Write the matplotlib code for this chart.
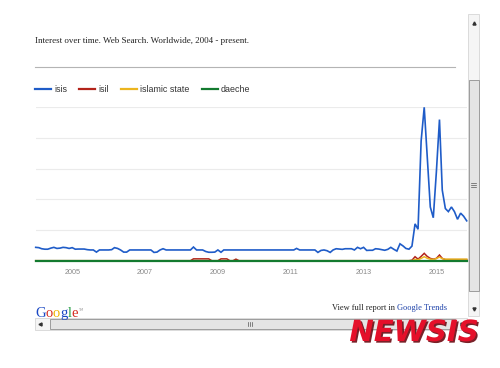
import matplotlib
matplotlib.use('Agg')
import matplotlib.pyplot as plt
import matplotlib.patheffects as pe
from matplotlib.patches import Rectangle
import pandas as pd

# Google Trends, worldwide web search, monthly Jan 2004 - Nov 2015
months = pd.date_range('2004-01-01', '2015-11-01', freq='MS')

isis = [
    8.7, 8.5, 7.8, 7.5, 7.5, 8.2, 8.7, 8.0, 8.2, 8.7, 8.5, 8.0,   # 2004
    8.5, 7.5, 7.6, 7.6, 7.6, 7.2, 7.0, 7.0, 5.6, 7.0, 7.0, 7.0,   # 2005
    7.0, 7.2, 8.5, 8.0, 7.0, 5.6, 5.6, 7.0, 7.0, 7.0, 7.0, 7.0,   # 2006
    7.0, 7.0, 7.0, 5.4, 5.6, 7.0, 7.8, 7.0, 7.0, 7.0, 7.0, 7.0,   # 2007
    7.0, 7.0, 7.0, 7.0, 8.9, 7.0, 7.0, 7.0, 6.0, 5.5, 5.5, 5.6,   # 2008
    7.0, 5.5, 7.0, 7.0, 7.0, 7.0, 7.0, 7.0, 7.0, 7.0, 7.0, 7.0,   # 2009
    7.0, 7.0, 7.0, 7.0, 7.0, 7.0, 7.0, 7.0, 7.0, 7.0, 7.0, 7.0,   # 2010
    7.0, 7.0, 8.0, 7.0, 7.0, 7.0, 7.0, 7.0, 7.0, 5.4, 6.7, 7.0,   # 2011
    6.5, 5.4, 7.0, 7.8, 7.6, 7.4, 7.8, 7.8, 7.8, 7.0, 8.7, 7.8,   # 2012
    8.7, 6.7, 6.8, 6.8, 7.8, 7.6, 7.2, 6.8, 7.4, 8.7, 7.4, 6.3,   # 2013
    11.0, 9.6, 8.0, 7.5, 9.5, 24.0, 20.5, 78.0, 100, 68, 35, 28,  # 2014
    58, 92, 46, 34, 32, 35, 32, 27, 31, 29, 26,                   # 2015
]
isil = [
    0, 0, 0, 0, 0, 0, 0, 0, 0, 0, 0, 0,
    0, 0, 0, 0, 0, 0, 0, 0, 0, 0, 0, 0,
    0, 0, 0, 0, 0, 0, 0, 0, 0, 0, 0, 0,
    0, 0, 0, 0, 0, 0, 0, 0, 0, 0, 0, 0,
    0, 0, 0, 0, 1.2, 1.2, 1.2, 1.2, 1.2, 1.2, 0, 0,
    0, 1.2, 1.2, 1.2, 0, 0, 1.0, 0, 0, 0, 0, 0,
    0, 0, 0, 0, 0, 0, 0, 0, 0, 0, 0, 0,
    0, 0, 0, 0, 0, 0, 0, 0, 0, 0, 0, 0,
    0, 0, 0, 0, 0, 0, 0, 0, 0, 0, 0, 0,
    0, 0, 0, 0, 0, 0, 0, 0, 0, 0, 0, 0,
    0, 0, 0, 0, 0.3, 2.6, 1.0, 2.8, 4.8, 2.8, 1.5, 1.0,
    1.5, 3.7, 1.5, 0.7, 0.7, 0.7, 0.7, 0.7, 0.7, 0.7, 0.7,
]
islamic_state = [
    0, 0, 0, 0, 0, 0, 0, 0, 0, 0, 0, 0,
    0, 0, 0, 0, 0, 0, 0, 0, 0, 0, 0, 0,
    0, 0, 0, 0, 0, 0, 0, 0, 0, 0, 0, 0,
    0, 0, 0, 0, 0, 0, 0, 0, 0, 0, 0, 0,
    0, 0, 0, 0, 0, 0, 0, 0, 0, 0, 0, 0,
    0, 0, 0, 0, 0, 0, 0, 0, 0, 0, 0, 0,
    0, 0, 0, 0, 0, 0, 0, 0, 0, 0, 0, 0,
    0, 0, 0, 0, 0, 0, 0, 0, 0, 0, 0, 0,
    0, 0, 0, 0, 0, 0, 0, 0, 0, 0, 0, 0,
    0, 0, 0, 0, 0, 0, 0, 0, 0, 0, 0, 0,
    0, 0, 0, 0, 0, 0.8, 0.6, 1.5, 2.6, 1.6, 1.0, 0.8,
    1.4, 2.4, 1.3, 1.0, 1.0, 1.0, 1.0, 1.0, 1.0, 1.0, 1.0,
]
daeche = [
    0, 0, 0, 0, 0, 0, 0, 0, 0, 0, 0, 0,
    0, 0, 0, 0, 0, 0, 0, 0, 0, 0, 0, 0,
    0, 0, 0, 0, 0, 0, 0, 0, 0, 0, 0, 0,
    0, 0, 0, 0, 0, 0, 0, 0, 0, 0, 0, 0,
    0, 0, 0, 0, 0, 0, 0, 0, 0, 0, 0, 0,
    0, 0, 0, 0, 0, 0, 0, 0, 0, 0, 0, 0,
    0, 0, 0, 0, 0, 0, 0, 0, 0, 0, 0, 0,
    0, 0, 0, 0, 0, 0, 0, 0, 0, 0, 0, 0,
    0, 0, 0, 0, 0, 0, 0, 0, 0, 0, 0, 0,
    0, 0, 0, 0, 0, 0, 0, 0, 0, 0, 0, 0,
    0, 0, 0, 0, 0, 0, 0, 0, 0, 0, 0, 0,
    0, 0, 0, 0, 0, 0, 0, 0, 0, 0, 0,
]
labels = ['isis', 'isil', 'islamic state', 'daeche']
colors = ['#1f5cc8', '#b3231a', '#ecb51f', '#137a2f']
widths = [1.2, 1.1, 1.1, 1.6]
year_ticks = ['2005', '2007', '2009', '2011', '2013', '2015']

W, H = 500, 368
fig = plt.figure(figsize=(W / 100, H / 100), dpi=100)
fig.patch.set_facecolor('white')

# page decoration layer, in pixel units
deco = fig.add_axes([0, 0, 1, 1], zorder=0)
deco.set_xlim(0, W)
deco.set_ylim(H, 0)
deco.axis('off')

# chart area
x0, x1, ytop, ybot = 35.7, 466.7, 107.3, 260.7
ax = fig.add_axes([x0 / W, 1 - ybot / H, (x1 - x0) / W, (ybot - ytop) / H], zorder=1)
ax.set_facecolor('none')

lines = []
for vals, lab, col, lw in zip([isis, isil, islamic_state, daeche], labels, colors, widths):
    ln, = ax.plot(months, vals, color=col, lw=lw, label=lab, clip_on=False, solid_joinstyle='miter')
    lines.append(ln)

ax.set_xlim(months[0], months[-1])
ax.set_ylim(0, 100)
ax.set_yticks([20, 40, 60, 80, 100])
ax.yaxis.grid(True, color='#ebebeb', lw=0.8)
ax.set_axisbelow(True)
ax.tick_params(axis='y', length=0, labelleft=False)
ax.set_xticks([pd.Timestamp(y + '-01-01') for y in year_ticks])
ax.set_xticklabels(year_ticks, family='Liberation Sans', fontsize=5.2, color='#8a8a8a')
ax.tick_params(axis='x', length=0, pad=6)
for s in ax.spines.values():
    s.set_visible(False)

leg = ax.legend(handles=lines, loc='center left', bbox_to_anchor=(35 / W, 1 - 90 / H),
                bbox_transform=fig.transFigure, ncol=4, frameon=False,
                prop={'family': 'Liberation Sans', 'size': 6.4},
                handlelength=1.8, handletextpad=0.33, columnspacing=1.4,
                borderpad=0, borderaxespad=0)
for t in leg.get_texts():
    t.set_color('#333333')
for l in leg.get_lines():
    l.set_linewidth(1.6)

# header
deco.text(35, 41, 'Interest over time. Web Search. Worldwide, 2004 - present.',
          family='Liberation Serif', fontsize=6.5, color='#222222', va='center')
deco.plot([35, 455], [67, 67], color='#b4b4b4', lw=0.8)

# Google logo
logo_cols = ['#1a48c4', '#d62d20', '#f0b400', '#1a48c4', '#1c9a3a', '#d62d20']
prev = deco.text(35, 316.7, 'G', color=logo_cols[0], family='Liberation Serif', fontsize=10.5, va='baseline')
for ch, col in zip('oogle', logo_cols[1:]):
    prev = deco.annotate(ch, xy=(1, 0), xycoords=prev, va='bottom', ha='left',
                         color=col, family='Liberation Serif', fontsize=10.5)
deco.annotate('TM', xy=(1.1, 0.75), xycoords=prev, fontsize=2.5, color='#999999', va='center')

prev = deco.text(332, 310.5, 'View full report in ', family='Liberation Serif', fontsize=6.0,
                 color='#222222', va='baseline')
deco.annotate('Google Trends', xy=(1, 0), xycoords=prev, va='bottom', ha='left',
              family='Liberation Serif', fontsize=6.0, color='#1a3fa8')

# vertical scrollbar
deco.add_patch(Rectangle((468, 14), 11, 302, fc='#f5f5f5', ec='#d6d6d6', lw=0.6))
deco.add_patch(Rectangle((468.5, 80), 10, 211, fc='#e4e4e4', ec='#9c9c9c', lw=0.7))
for gy in [183, 185, 187]:
    deco.plot([471, 476], [gy, gy], color='#555555', lw=0.5)
deco.plot([473.5], [23], marker='^', ms=2.2, color='#333333')
deco.plot([473.5], [309], marker='v', ms=2.2, color='#333333')

# horizontal scrollbar
deco.add_patch(Rectangle((35, 317.5), 432, 12.5, fc='#f5f5f5', ec='#d6d6d6', lw=0.6))
deco.add_patch(Rectangle((50, 318.5), 405, 10.5, fc='#e4e4e4', ec='#9c9c9c', lw=0.7))
for gx in [248, 250, 252]:
    deco.plot([gx, gx], [321.5, 326], color='#555555', lw=0.5)
deco.plot([39.5], [323.5], marker='<', ms=2.2, color='#333333')
deco.plot([462], [323.5], marker='>', ms=2.2, color='#333333')

# watermark
deco.text(414, 333, 'NEWSIS', family='DejaVu Sans', fontsize=21, fontweight='bold',
          style='italic', color='#e5102a', ha='center', va='center',
          path_effects=[pe.withSimplePatchShadow(offset=(1.2, -1.2), shadow_rgbFace='#6a0a12', alpha=0.9)])

fig.savefig('out.png', dpi=100)
